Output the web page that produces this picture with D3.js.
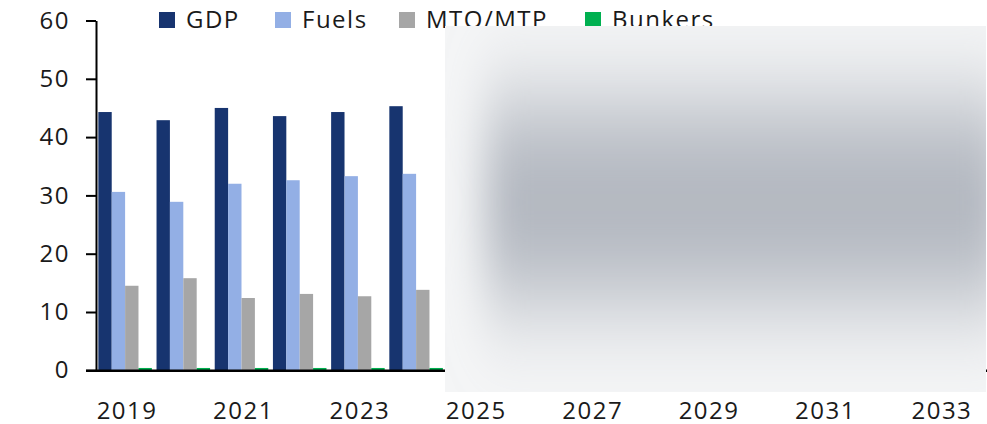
<!DOCTYPE html>
<html>
<head>
<meta charset="UTF-8">
<script src="https://d3js.org/d3.v7.min.js"></script>
<style>
  html, body { margin: 0; padding: 0; background: #fff; }
  svg { display: block; font-family: "Open Sans", sans-serif; }
  .lbl { font-size: 24px; letter-spacing: 1.5px; fill: #1a1a1a; }
</style>
</head>
<body>
<svg id="chart" width="987" height="424"></svg>
<script>
// data (2019-2024 visible, the rest is hidden)
const years = [2019, 2020, 2021, 2022, 2023, 2024];
const allYears = d3.range(2019, 2035);
const series = ["GDP", "Fuels", "MTO/MTP", "Bunkers"];
const gdp = [44.3, 42.9, 45.0, 43.6, 44.3, 45.3];
const fuels = [30.6, 28.9, 32.0, 32.6, 33.3, 33.7];
const mto = [14.5, 15.8, 12.4, 13.1, 12.7, 13.8];
const bunkers = [0.4, 0.4, 0.4, 0.4, 0.4, 0.4];
const yTicks = [0, 10, 20, 30, 40, 50, 60];
const xTicks = [2019, 2021, 2023, 2025, 2027, 2029, 2031, 2033];

const colors = ["#17346f", "#93afe5", "#a6a6a6", "#00b050"];
const values = [gdp, fuels, mto, bunkers];

const svg = d3.select("#chart");
const plotLeft = 96, plotBase = 370.3, plotTop = 20.5, step = 58.2;

const x0 = d3.scaleBand()
  .domain(allYears)
  .range([plotLeft, plotLeft + allYears.length * step])
  .paddingInner(0.08).paddingOuter(0.04);
const x1 = d3.scaleBand().domain(series).range([0, x0.bandwidth()]);
const y = d3.scaleLinear().domain([0, 60]).range([plotBase, plotTop]);

// bars
const rows = years.map((yr, i) => ({ yr, vals: values.map(v => v[i]) }));
const g = svg.selectAll(".grp").data(rows).enter().append("g")
  .attr("transform", d => `translate(${x0(d.yr)},0)`);
g.selectAll("rect").data(d => d.vals.map((v, k) => ({ s: series[k], v, k })))
  .enter().append("rect")
  .attr("x", d => x1(d.s))
  .attr("width", x1.bandwidth())
  .attr("y", d => y(d.v))
  .attr("height", d => y(0) - y(d.v))
  .attr("fill", d => colors[d.k]);

// y axis
const ya = svg.append("g").attr("transform", `translate(${plotLeft},0)`)
  .call(d3.axisLeft(y).tickValues(yTicks).tickSize(10).tickSizeOuter(0).tickPadding(16));
ya.select(".domain").attr("stroke", "#000").attr("stroke-width", 2);
ya.selectAll(".tick line").attr("stroke", "#000").attr("stroke-width", 2);
ya.selectAll("text").attr("class", "lbl");
ya.attr("font-family", null).attr("font-size", null);

// x axis line
svg.append("line").attr("x1", plotLeft - 10).attr("x2", 987)
  .attr("y1", plotBase + 0.5).attr("y2", plotBase + 0.5)
  .attr("stroke", "#000").attr("stroke-width", 2.5);

// x labels
svg.selectAll(".xl").data(xTicks).enter().append("text")
  .attr("class", "lbl")
  .attr("x", d => x0(d) + x0.bandwidth() / 2 + 2)
  .attr("y", 419)
  .attr("text-anchor", "middle")
  .text(d => d);

// legend
const legX = [159, 275, 399, 585];
const lg = svg.selectAll(".leg").data(series).enter().append("g")
  .attr("transform", (d, i) => `translate(${legX[i]},12)`);
lg.append("rect").attr("width", 16).attr("height", 16).attr("fill", (d, i) => colors[i]);
lg.append("text").attr("class", "lbl").attr("x", 27).attr("y", 16).text(d => d);

// blurred placeholder over the forecast years
const defs = svg.append("defs");
defs.append("clipPath").attr("id", "ov").append("rect")
  .attr("x", 445).attr("y", 26).attr("width", 541).attr("height", 366);
defs.append("filter").attr("id", "blur")
  .attr("filterUnits", "userSpaceOnUse")
  .attr("x", 300).attr("y", -200).attr("width", 900).attr("height", 800)
  .append("feGaussianBlur").attr("stdDeviation", "20 50");
const ov = svg.append("g").attr("clip-path", "url(#ov)");
ov.append("rect").attr("x", 445).attr("y", 26).attr("width", 541).attr("height", 366)
  .attr("fill", "#f4f5f6");
ov.append("rect").attr("x", 485).attr("y", 105).attr("width", 520).attr("height", 195)
  .attr("fill", "#b2b7c0").attr("filter", "url(#blur)");
</script>
</body>
</html>
